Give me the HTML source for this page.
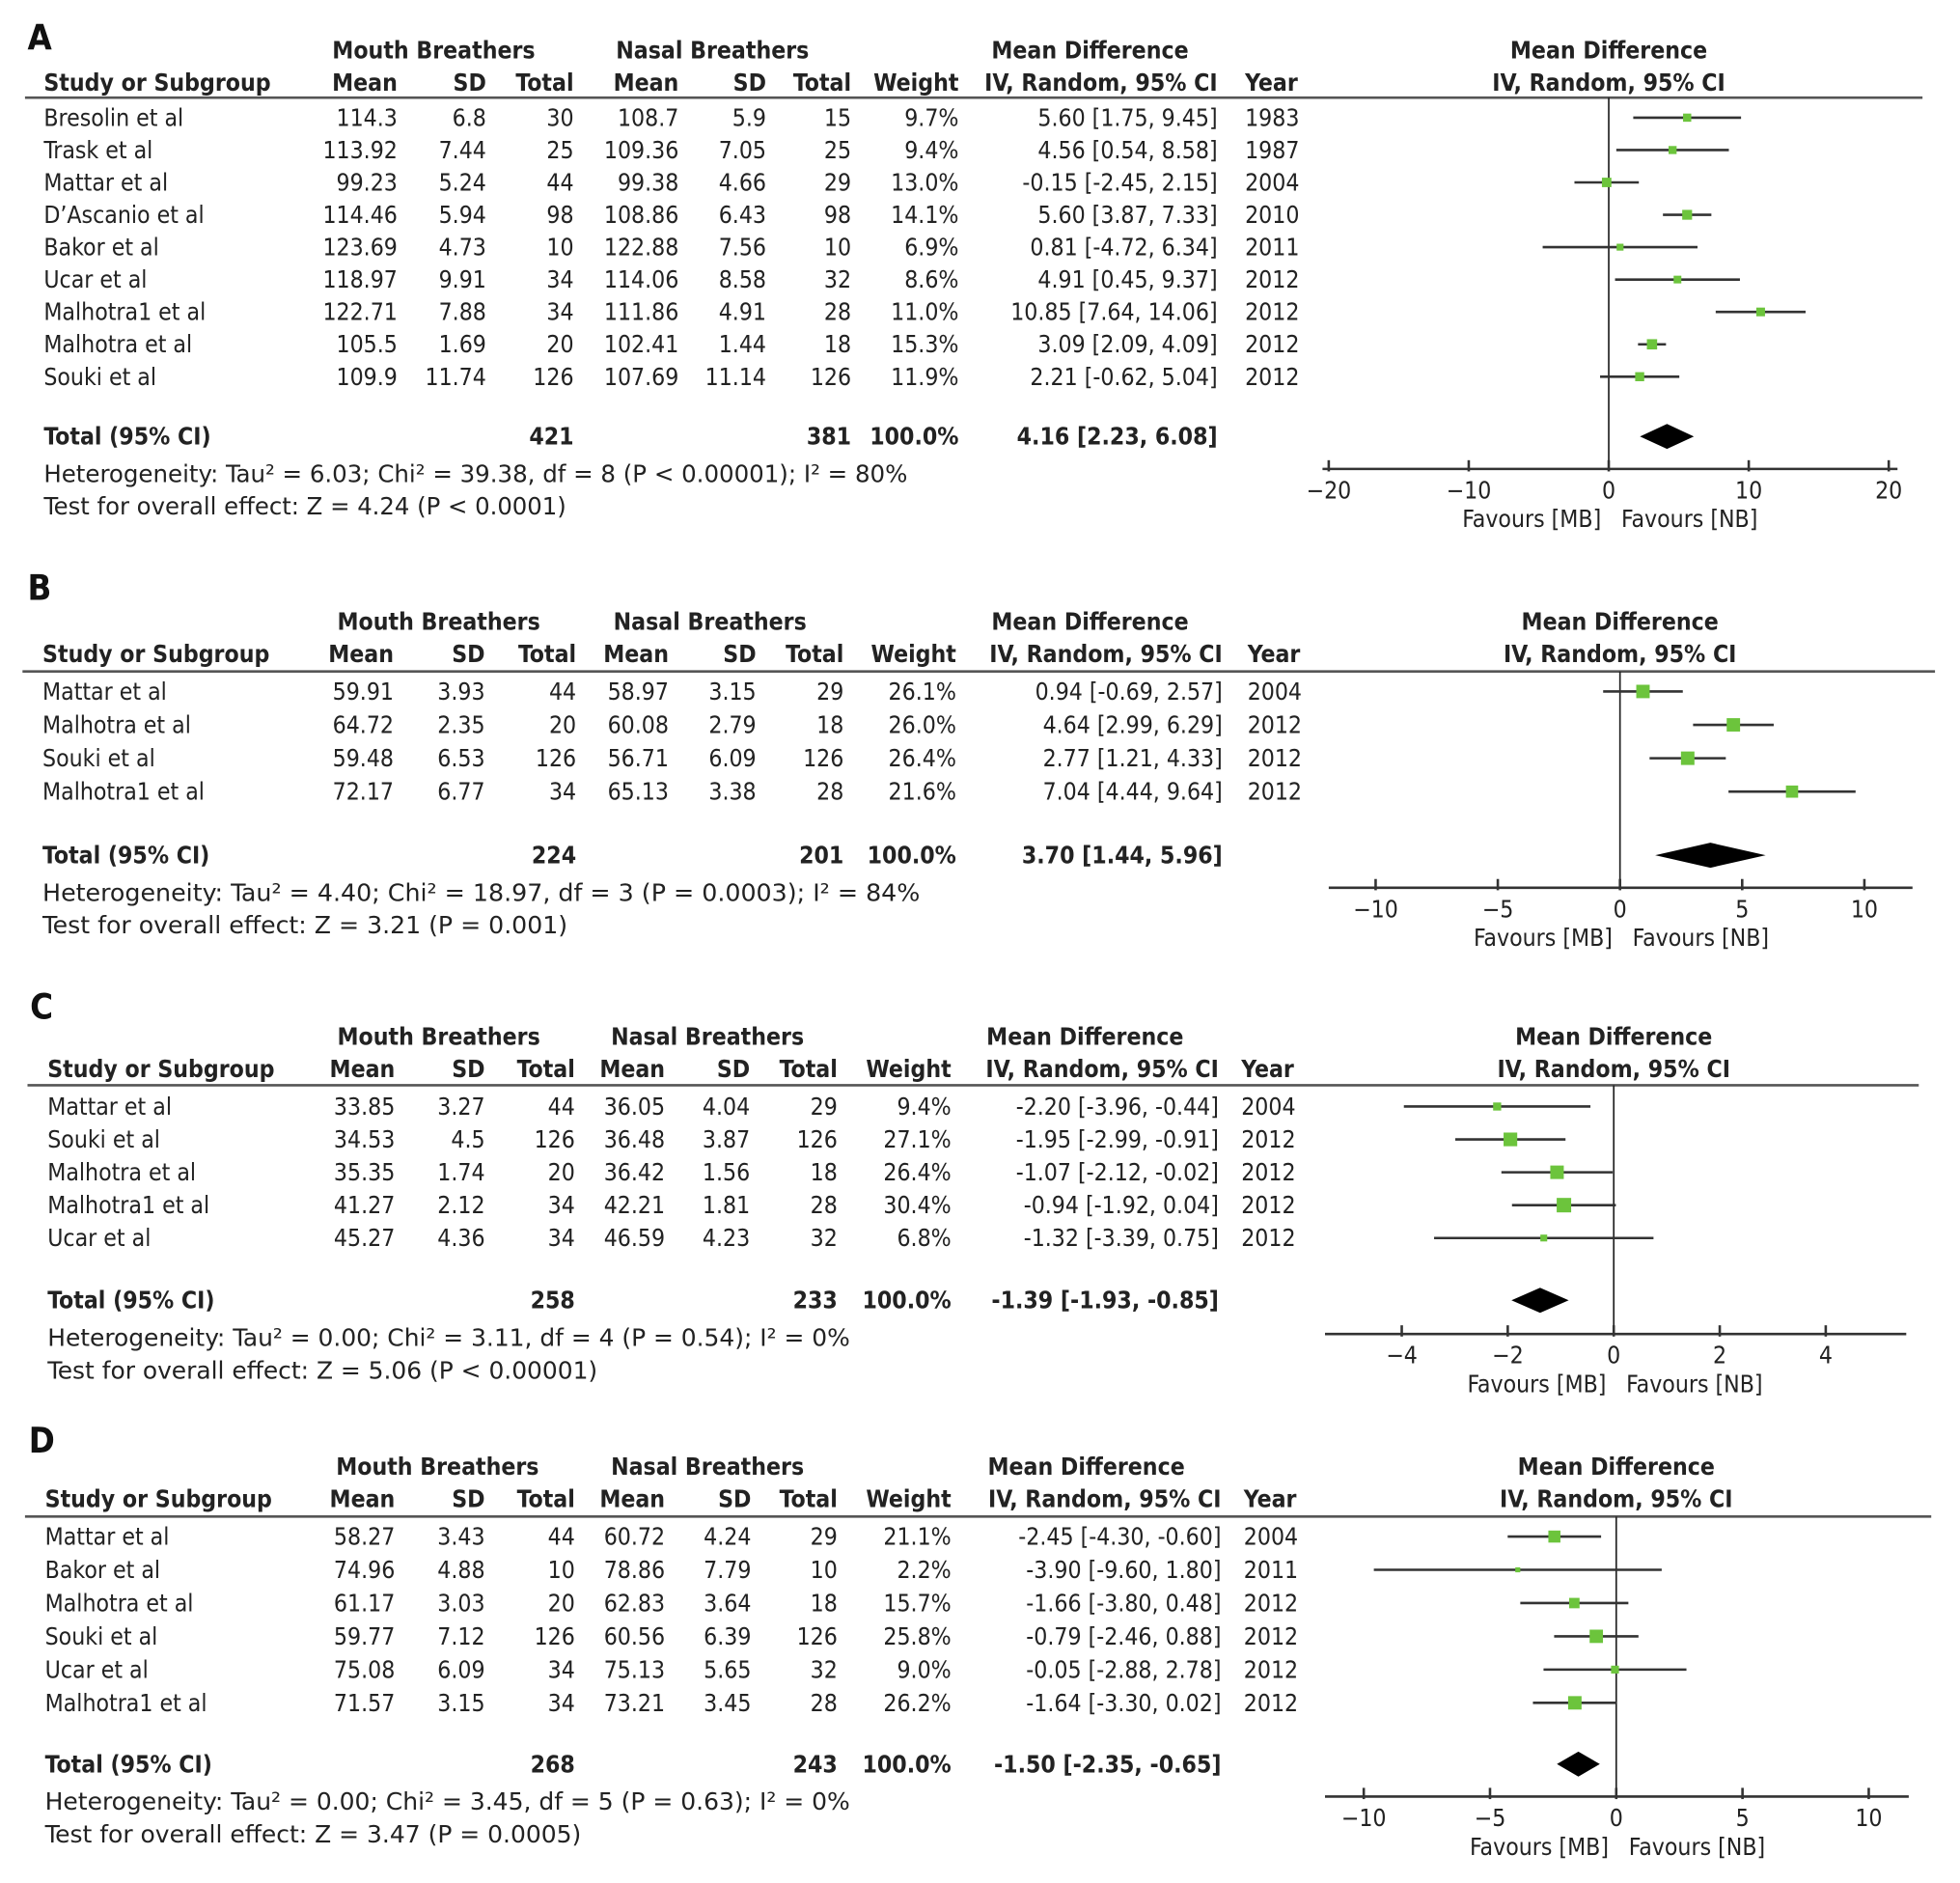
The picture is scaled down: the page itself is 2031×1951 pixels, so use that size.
<!DOCTYPE html>
<html><head><meta charset="utf-8">
<style>
html,body{margin:0;padding:0;background:#fff;}
svg{display:block;}
text{font-family:"DejaVu Sans Condensed","DejaVu Sans","Liberation Sans",sans-serif;font-size:19px;fill:#222;}
.b{font-weight:bold;}
.p{font-size:28px;font-weight:bold;fill:#111;}
</style></head>
<body>
<svg id="fig" width="2031" height="1951" viewBox="0 0 1568 1506" xmlns="http://www.w3.org/2000/svg"></svg>
<script>
// ---- Panel A data ----
const studiesA = ["Bresolin et al","Trask et al","Mattar et al","D’Ascanio et al","Bakor et al","Ucar et al","Malhotra1 et al","Malhotra et al","Souki et al"];
const mbMeanA = ["114.3","113.92","99.23","114.46","123.69","118.97","122.71","105.5","109.9"];
const mbSdA = ["6.8","7.44","5.24","5.94","4.73","9.91","7.88","1.69","11.74"];
const mbNA = [30,25,44,98,10,34,34,20,126];
const nbMeanA = ["108.7","109.36","99.38","108.86","122.88","114.06","111.86","102.41","107.69"];
const nbSdA = ["5.9","7.05","4.66","6.43","7.56","8.58","4.91","1.44","11.14"];
const nbNA = [15,25,29,98,10,32,28,18,126];
const weightA = [9.7,9.4,13.0,14.1,6.9,8.6,11.0,15.3,11.9];
const mdA = [5.60,4.56,-0.15,5.60,0.81,4.91,10.85,3.09,2.21];
const loA = [1.75,0.54,-2.45,3.87,-4.72,0.45,7.64,2.09,-0.62];
const hiA = [9.45,8.58,2.15,7.33,6.34,9.37,14.06,4.09,5.04];
const yearA = [1983,1987,2004,2010,2011,2012,2012,2012,2012];
const totalA = [421,381,4.16,2.23,6.08];
const ticksA = [-20,-10,0,10,20];
// ---- Panel B data ----
const studiesB = ["Mattar et al","Malhotra et al","Souki et al","Malhotra1 et al"];
const mbMeanB = ["59.91","64.72","59.48","72.17"];
const mbSdB = ["3.93","2.35","6.53","6.77"];
const mbNB = [44,20,126,34];
const nbMeanB = ["58.97","60.08","56.71","65.13"];
const nbSdB = ["3.15","2.79","6.09","3.38"];
const nbNB = [29,18,126,28];
const weightB = [26.1,26.0,26.4,21.6];
const mdB = [0.94,4.64,2.77,7.04];
const loB = [-0.69,2.99,1.21,4.44];
const hiB = [2.57,6.29,4.33,9.64];
const yearB = [2004,2012,2012,2012];
const totalB = [224,201,3.70,1.44,5.96];
const ticksB = [-10,-5,0,5,10];
// ---- Panel C data ----
const studiesC = ["Mattar et al","Souki et al","Malhotra et al","Malhotra1 et al","Ucar et al"];
const mbMeanC = ["33.85","34.53","35.35","41.27","45.27"];
const mbSdC = ["3.27","4.5","1.74","2.12","4.36"];
const mbNC = [44,126,20,34,34];
const nbMeanC = ["36.05","36.48","36.42","42.21","46.59"];
const nbSdC = ["4.04","3.87","1.56","1.81","4.23"];
const nbNC = [29,126,18,28,32];
const weightC = [9.4,27.1,26.4,30.4,6.8];
const mdC = [-2.20,-1.95,-1.07,-0.94,-1.32];
const loC = [-3.96,-2.99,-2.12,-1.92,-3.39];
const hiC = [-0.44,-0.91,-0.02,0.04,0.75];
const yearC = [2004,2012,2012,2012,2012];
const totalC = [258,233,-1.39,-1.93,-0.85];
const ticksC = [-4,-2,0,2,4];
// ---- Panel D data ----
const studiesD = ["Mattar et al","Bakor et al","Malhotra et al","Souki et al","Ucar et al","Malhotra1 et al"];
const mbMeanD = ["58.27","74.96","61.17","59.77","75.08","71.57"];
const mbSdD = ["3.43","4.88","3.03","7.12","6.09","3.15"];
const mbND = [44,10,20,126,34,34];
const nbMeanD = ["60.72","78.86","62.83","60.56","75.13","73.21"];
const nbSdD = ["4.24","7.79","3.64","6.39","5.65","3.45"];
const nbND = [29,10,18,126,32,28];
const weightD = [21.1,2.2,15.7,25.8,9.0,26.2];
const mdD = [-2.45,-3.90,-1.66,-0.79,-0.05,-1.64];
const loD = [-4.30,-9.60,-3.80,-2.46,-2.88,-3.30];
const hiD = [-0.60,1.80,0.48,0.88,2.78,0.02];
const yearD = [2004,2011,2012,2012,2012,2012];
const totalD = [268,243,-1.50,-2.35,-0.65];
const ticksD = [-10,-5,0,5,10];

const hetA = "Heterogeneity: Tau² = 6.03; Chi² = 39.38, df = 8 (P < 0.00001); I² = 80%";
const testA = "Test for overall effect: Z = 4.24 (P < 0.0001)";
const hetB = "Heterogeneity: Tau² = 4.40; Chi² = 18.97, df = 3 (P = 0.0003); I² = 84%";
const testB = "Test for overall effect: Z = 3.21 (P = 0.001)";
const hetC = "Heterogeneity: Tau² = 0.00; Chi² = 3.11, df = 4 (P = 0.54); I² = 0%";
const testC = "Test for overall effect: Z = 5.06 (P < 0.00001)";
const hetD = "Heterogeneity: Tau² = 0.00; Chi² = 3.45, df = 5 (P = 0.63); I² = 0%";
const testD = "Test for overall effect: Z = 3.47 (P = 0.0005)";

const NS="http://www.w3.org/2000/svg";
const svg=document.getElementById('fig');
function el(tag,attrs,parent){const e=document.createElementNS(NS,tag);for(const k in attrs)e.setAttribute(k,attrs[k]);(parent||svg).appendChild(e);return e;}
function txt(s,x,y,anchor,cls,parent,len){const t=el('text',{x:x,y:y,'text-anchor':anchor||'start','dominant-baseline':'central'},parent);if(cls)t.setAttribute('class',cls);if(len){t.setAttribute('textLength',len);t.setAttribute('lengthAdjust','spacingAndGlyphs');}t.textContent=s;return t;}
function fmtMd(v){return (v<0?'-':'')+Math.abs(v).toFixed(2);}

function panel(P){
  const g=el('g',{});
  
  
  const L=txt(P.label,P.lx,P.ly,'start','p',g);
  
  
  const c=P.cols;
  txt('Mouth Breathers',c.mbC,P.h1,'middle','b',g);
  txt('Nasal Breathers',c.nbC,P.h1,'middle','b',g);
  txt('Mean Difference',c.mdC,P.h1,'middle','b',g);
  txt('Mean Difference',P.zx,P.h1,'middle','b',g);
  txt('Study or Subgroup',c.study,P.h2,'start','b',g);
  txt('Mean',c.m1,P.h2,'end','b',g);txt('SD',c.s1,P.h2,'end','b',g);txt('Total',c.n1,P.h2,'end','b',g);
  txt('Mean',c.m2,P.h2,'end','b',g);txt('SD',c.s2,P.h2,'end','b',g);txt('Total',c.n2,P.h2,'end','b',g);
  txt('Weight',c.w,P.h2,'end','b',g);txt('IV, Random, 95% CI',c.ci,P.h2,'end','b',g);txt('Year',c.yr,P.h2,'start','b',g);
  txt('IV, Random, 95% CI',P.zx,P.h2,'middle','b',g);
  const hl=el('line',{x1:P.lineX1,x2:P.lineX2,y1:P.lineY,y2:P.lineY,stroke:'#555','stroke-width':2},g);
  
  
  const sx=v=>P.zx+v*P.ppu;
  const zl=el('line',{x1:P.zx,x2:P.zx,y1:P.lineY,y2:P.axisY,stroke:'#222','stroke-width':1.3},g);
  
  
  const n=P.studies.length;
  for(let i=0;i<n;i++){
    const y=P.r0+i*P.dr;
    const row=el('g',{},g);
    
    
    txt(P.studies[i],c.study,y,'start',null,row);
    txt(P.m1[i],c.m1,y,'end',null,row);txt(P.s1[i],c.s1,y,'end',null,row);txt(String(P.n1[i]),c.n1,y,'end',null,row);
    txt(P.m2[i],c.m2,y,'end',null,row);txt(P.s2[i],c.s2,y,'end',null,row);txt(String(P.n2[i]),c.n2,y,'end',null,row);
    txt(P.w[i].toFixed(1)+'%',c.w,y,'end',null,row);
    txt(fmtMd(P.md[i])+' ['+fmtMd(P.lo[i])+', '+fmtMd(P.hi[i])+']',c.ci,y,'end',null,row);
    txt(String(P.yr[i]),c.yr,y,'start',null,row);
    const ci=el('line',{x1:sx(P.lo[i]),x2:sx(P.hi[i]),y1:y,y2:y,stroke:'#333','stroke-width':2},row);
    
    
    const s=Math.max(4,Math.sqrt(P.w[i])*2.1);
    const sq=el('rect',{x:sx(P.md[i])-s/2,y:y-s/2,width:s,height:s,fill:'#6cc43c'},row);
    
    
  }
  const t=P.total;
  txt('Total (95% CI)',c.study,P.ty,'start','b',g);
  txt(String(t[0]),c.n1,P.ty,'end','b',g);
  txt(String(t[1]),c.n2,P.ty,'end','b',g);
  txt('100.0%',c.w,P.ty,'end','b',g);
  txt(fmtMd(t[2])+' ['+fmtMd(t[3])+', '+fmtMd(t[4])+']',c.ci,P.ty,'end','b',g);
  const dm=el('polygon',{points:sx(t[3])+','+P.ty+' '+sx(t[2])+','+(P.ty-10)+' '+sx(t[4])+','+P.ty+' '+sx(t[2])+','+(P.ty+10),fill:'#000'},g);
  
  
  txt(P.het,c.study,P.ty+30,'start',null,g,P.hetLen);
  txt(P.test,c.study,P.ty+56,'start',null,g,P.testLen);
  const ax=el('line',{x1:P.axX1,x2:P.axX2,y1:P.axisY,y2:P.axisY,stroke:'#333','stroke-width':2},g);
  
  
  P.ticks.forEach(v=>{
    const tk=el('line',{x1:sx(v),x2:sx(v),y1:P.axisY-7,y2:P.axisY+2,stroke:'#333','stroke-width':2},g);
    
    
    const tl=txt((v<0?'−':'')+Math.abs(v),sx(v),P.axisY+17,'middle',null,g);
    
    
  });
  txt('Favours [MB]',P.zx-6,P.axisY+40,'end',null,g);
  txt('Favours [NB]',P.zx+10,P.axisY+40,'start',null,g);
}

const colsA={study:35,m1:318,s1:389,n1:459,m2:543,s2:613,n2:681,w:767,ci:974,yr:996,mbC:347,nbC:570,mdC:872};
const colsB={study:34,m1:315,s1:388,n1:461,m2:535,s2:605,n2:675,w:765,ci:978,yr:998,mbC:351,nbC:568,mdC:872};
const colsC={study:38,m1:316,s1:388,n1:460,m2:532,s2:600,n2:670,w:761,ci:975,yr:993,mbC:351,nbC:566,mdC:868};
const colsD={study:36,m1:316,s1:388,n1:460,m2:532,s2:601,n2:670,w:761,ci:977,yr:995,mbC:350,nbC:566,mdC:869};

panel({label:'A',lx:22,ly:30,h1:40,h2:66,cols:colsA,lineY:78,lineX1:20,lineX2:1538,zx:1287,ppu:11.2,
 studies:studiesA,m1:mbMeanA,s1:mbSdA,n1:mbNA,m2:nbMeanA,s2:nbSdA,n2:nbNA,w:weightA,md:mdA,lo:loA,hi:hiA,yr:yearA,
 r0:94,dr:25.9,total:totalA,ty:349,het:hetA,hetLen:691,test:testA,testLen:418,axisY:375,axX1:1058,axX2:1518,ticks:ticksA});
panel({label:'B',lx:22,ly:470,h1:497,h2:523,cols:colsB,lineY:537,lineX1:18,lineX2:1548,zx:1296,ppu:19.55,
 studies:studiesB,m1:mbMeanB,s1:mbSdB,n1:mbNB,m2:nbMeanB,s2:nbSdB,n2:nbNB,w:weightB,md:mdB,lo:loB,hi:hiB,yr:yearB,
 r0:553,dr:26.7,total:totalB,ty:684,het:hetB,hetLen:702,test:testB,testLen:420,axisY:710,axX1:1063,axX2:1530,ticks:ticksB});
panel({label:'C',lx:24,ly:805,h1:829,h2:855,cols:colsC,lineY:868,lineX1:22,lineX2:1535,zx:1291,ppu:42.4,
 studies:studiesC,m1:mbMeanC,s1:mbSdC,n1:mbNC,m2:nbMeanC,s2:nbSdC,n2:nbNC,w:weightC,md:mdC,lo:loC,hi:hiC,yr:yearC,
 r0:885,dr:26.3,total:totalC,ty:1040,het:hetC,hetLen:642,test:testC,testLen:440,axisY:1067,axX1:1060,axX2:1525,ticks:ticksC});
panel({label:'D',lx:23,ly:1152,h1:1173,h2:1199,cols:colsD,lineY:1213,lineX1:20,lineX2:1545,zx:1293,ppu:20.2,
 studies:studiesD,m1:mbMeanD,s1:mbSdD,n1:mbND,m2:nbMeanD,s2:nbSdD,n2:nbND,w:weightD,md:mdD,lo:loD,hi:hiD,yr:yearD,
 r0:1229,dr:26.6,total:totalD,ty:1411,het:hetD,hetLen:644,test:testD,testLen:429,axisY:1437,axX1:1060,axX2:1527,ticks:ticksD});
</script>
</body></html>
